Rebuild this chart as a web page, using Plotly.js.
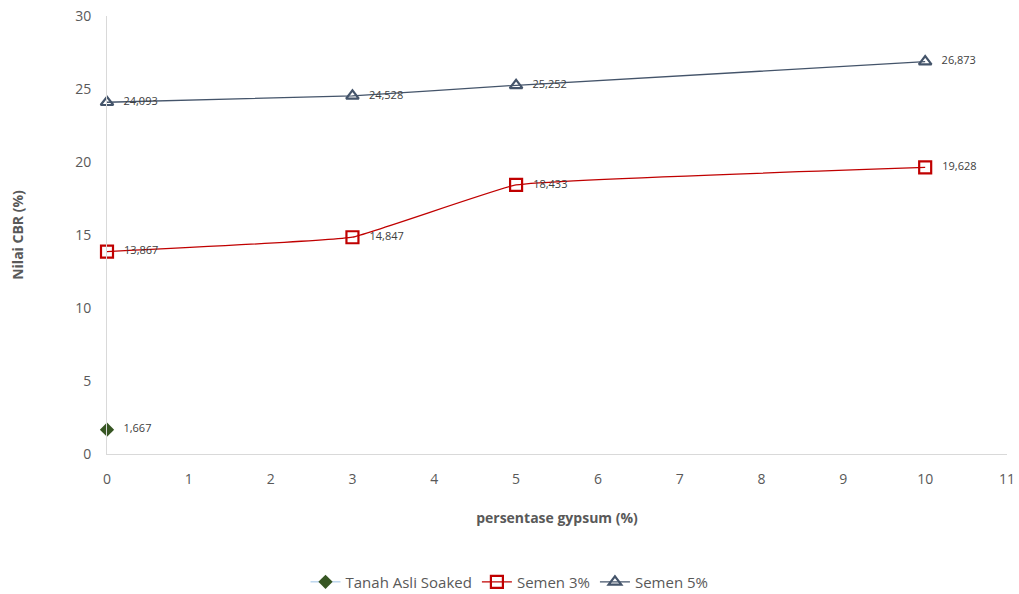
<!DOCTYPE html>
<html><head><meta charset="utf-8">
<script src="https://cdn.plot.ly/plotly-3.0.1.min.js"></script>
<style>html,body{margin:0;padding:0;background:#fff}#chart{width:1019px;height:594px}</style>
</head><body><div id="chart"></div>
<script>
const seriesNames = ["Tanah Asli Soaked", "Semen 3%", "Semen 5%"];
const xTanah = [0];
const yTanah = [1.667];
const xSemen3 = [0, 3, 5, 10];
const ySemen3 = [13.867, 14.847, 18.433, 19.628];
const xSemen5 = [0, 3, 5, 10];
const ySemen5 = [24.093, 24.528, 25.252, 26.873];
const xTicks = [0,1,2,3,4,5,6,7,8,9,10,11];
const yTicks = [0,5,10,15,20,25,30];

const fontFam = "Open Sans, Liberation Sans, sans-serif";
const labelFont = {family: fontFam, size: 11, color: "#404040"};

const traces = [
  {x: xTanah, y: yTanah, name: seriesNames[0], mode: "lines+markers+text",
   line: {color: "#9dc3e6", width: 1},
   marker: {symbol: "diamond", size: 11, color: "#375623"},
   texttemplate: "   %{y:.3f}", textposition: "middle right", textfont: labelFont, cliponaxis: false},
  {x: xSemen3, y: ySemen3, name: seriesNames[1], mode: "lines+markers+text",
   line: {color: "#c00000", width: 1.3, shape: "spline", smoothing: 0.25},
   marker: {symbol: "square-open", size: 12, color: "#c00000", line: {width: 2.2, color: "#c00000"}},
   texttemplate: "   %{y:.3f}", textposition: "middle right", textfont: labelFont, cliponaxis: false},
  {x: xSemen5, y: ySemen5, name: seriesNames[2], mode: "lines+markers+text",
   line: {color: "#44546a", width: 1.3, shape: "spline", smoothing: 0.25},
   marker: {symbol: "triangle-up-open", size: 11, color: "#44546a", line: {width: 2.2, color: "#44546a"}},
   texttemplate: "   %{y:.3f}", textposition: "middle right", textfont: labelFont, cliponaxis: false}
];

const layout = {
  width: 1019, height: 594,
  separators: ",.",
  margin: {l: 107, r: 12, t: 16, b: 140},
  paper_bgcolor: "#fff", plot_bgcolor: "#fff",
  font: {family: fontFam, color: "#595959"},
  showlegend: true,
  legend: {orientation: "h", xref: "container", yref: "container", x: 0.5, xanchor: "center",
           y: 0.02, yanchor: "middle",
           font: {family: fontFam, size: 15, color: "#595959"}},
  xaxis: {range: [0, 11], tickvals: xTicks, showgrid: false, zeroline: false,
          showline: true, linecolor: "#d9d9d9", linewidth: 1, ticks: "",
          tickfont: {family: fontFam, size: 14, color: "#595959"}, ticklabelstandoff: 12,
          title: {text: "<b>persentase gypsum (%)</b>", font: {family: fontFam, size: 14, color: "#595959"}, standoff: 26}},
  yaxis: {range: [0, 30], tickvals: yTicks, showgrid: false, zeroline: false,
          showline: true, linecolor: "#d9d9d9", linewidth: 1, ticks: "",
          tickfont: {family: fontFam, size: 14, color: "#595959"}, ticklabelstandoff: 12,
          title: {text: "<b>Nilai CBR (%)</b>", font: {family: fontFam, size: 14, color: "#595959"}, standoff: 48}}
};

Plotly.newPlot("chart", traces, layout, {displayModeBar: false, responsive: false});
</script></body></html>
